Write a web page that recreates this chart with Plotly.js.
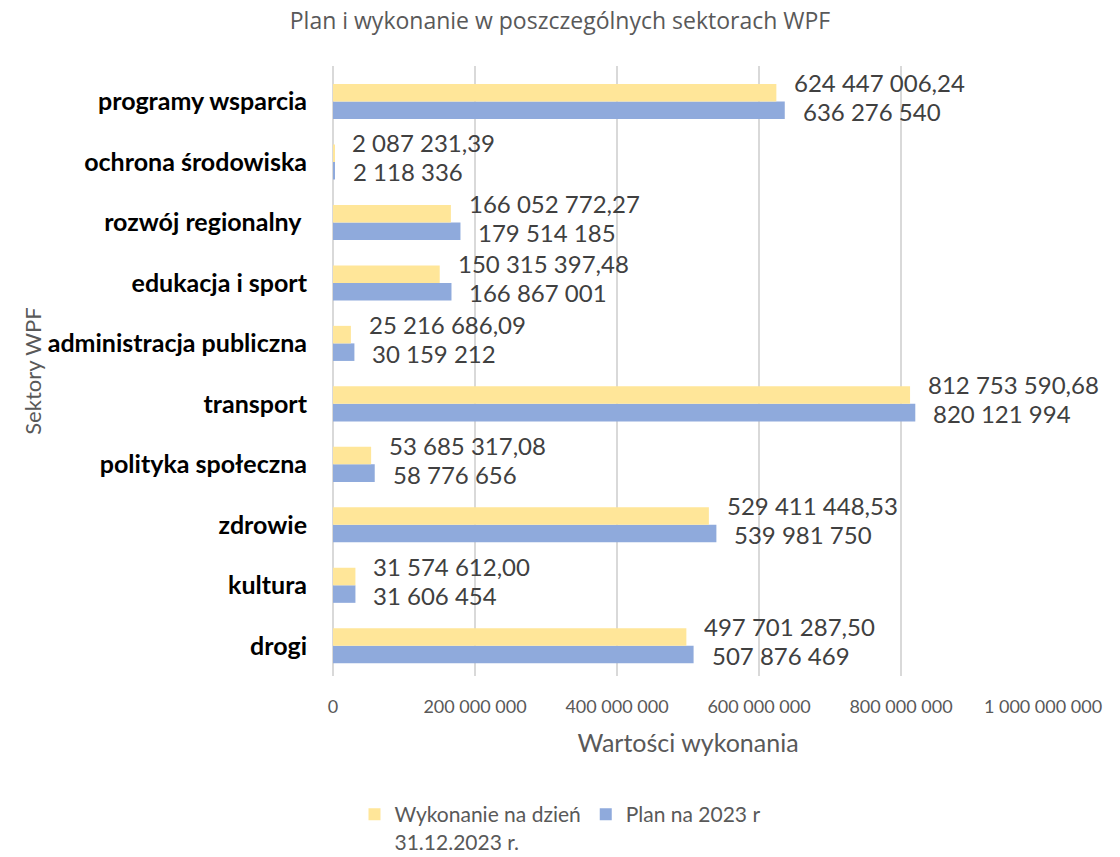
<!DOCTYPE html>
<html>
<head>
<meta charset="utf-8">
<script src="https://cdn.plot.ly/plotly-3.0.1.min.js"></script>
<style>
  html, body { margin: 0; padding: 0; background: #fff; }
  #myDiv { width: 1120px; height: 857px; }
</style>
</head>
<body>
<div id="myDiv"></div>
<script>
var sectors = ['drogi', 'kultura', 'zdrowie', 'polityka społeczna', 'transport',
  'administracja publiczna', 'edukacja i sport', 'rozwój regionalny ',
  'ochrona środowiska', 'programy wsparcia'];

var wykonanie = [497701287.50, 31574612.00, 529411448.53, 53685317.08, 812753590.68,
  25216686.09, 150315397.48, 166052772.27, 2087231.39, 624447006.24];

var plan = [507876469, 31606454, 539981750, 58776656, 820121994,
  30159212, 166867001, 179514185, 2118336, 636276540];

var FONT = 'Lato, "Open Sans", sans-serif';
var GREY = '#595959';

// polski zapis liczb: spacja tysięcy, przecinek dziesiętny
function fmt(v, dec) {
  var parts = v.toFixed(dec).split('.');
  var whole = parts[0].replace(/\B(?=(\d{3})+(?!\d))/g, ' ');
  return dec ? whole + ',' + parts[1] : whole;
}

var tracePlan = {
  type: 'bar',
  orientation: 'h',
  name: 'Plan na 2023 r',
  y: sectors,
  x: plan,
  marker: { color: '#8FAADC' },
  hoverinfo: 'x+y'
};

var traceWyk = {
  type: 'bar',
  orientation: 'h',
  name: 'Wykonanie na dzień<br>31.12.2023 r.',
  y: sectors,
  x: wykonanie,
  marker: { color: '#FFE699' },
  hoverinfo: 'x+y'
};

var labelFont = { family: FONT, size: 24, color: '#404040' };
var annotations = [];
sectors.forEach(function (s, i) {
  annotations.push({
    x: wykonanie[i], y: s, xref: 'x', yref: 'y',
    text: fmt(wykonanie[i], 2), showarrow: false,
    xanchor: 'left', yanchor: 'middle', xshift: 16, yshift: 19,
    font: labelFont
  });
  annotations.push({
    x: plan[i], y: s, xref: 'x', yref: 'y',
    text: fmt(plan[i], 0), showarrow: false,
    xanchor: 'left', yanchor: 'middle', xshift: 16, yshift: -10,
    font: labelFont
  });
});

var layout = {
  width: 1120,
  height: 857,
  paper_bgcolor: '#fff',
  plot_bgcolor: '#fff',
  separators: ', ',
  font: { family: FONT, color: GREY },
  margin: { l: 333, r: 77, t: 66, b: 181 },
  barmode: 'group',
  bargap: 0.42,
  bargroupgap: 0,
  showlegend: true,
  annotations: annotations,
  title: {
    text: 'Plan i wykonanie w poszczególnych sektorach WPF',
    font: { family: '"Open Sans", sans-serif', size: 23, color: GREY },
    x: 0.5, xanchor: 'center',
    y: 1 - 21 / 857, yanchor: 'middle'
  },
  xaxis: {
    range: [0, 1000000000],
    dtick: 200000000,
    tickformat: ',d',
    automargin: false,
    showgrid: true,
    gridcolor: '#d9d9d9',
    gridwidth: 1.5,
    zeroline: true,
    zerolinecolor: '#d9d9d9',
    zerolinewidth: 1.5,
    showline: false,
    ticks: '',
    tickfont: { size: 18, color: GREY },
    ticklabelstandoff: 18,
    title: {
      text: 'Wartości wykonania',
      font: { size: 25, color: GREY },
      standoff: 18
    }
  },
  yaxis: {
    type: 'category',
    automargin: false,
    showgrid: false,
    zeroline: false,
    showline: false,
    ticks: '',
    ticklabelstandoff: 25,
    tickfont: { size: 25, color: '#000', weight: 'bold' },
    title: {
      text: 'Sektory WPF',
      font: { size: 22, color: GREY },
      standoff: 0
    }
  },
  legend: {
    orientation: 'h',
    traceorder: 'reversed',
    valign: 'top',
    xref: 'container', yref: 'container',
    x: 0.5, xanchor: 'center',
    y: 1 - 794 / 857, yanchor: 'top',
    font: { size: 21, color: GREY },
    itemwidth: 30
  }
};

Plotly.newPlot('myDiv', [tracePlan, traceWyk], layout, { displayModeBar: false });
</script>
</body>
</html>
